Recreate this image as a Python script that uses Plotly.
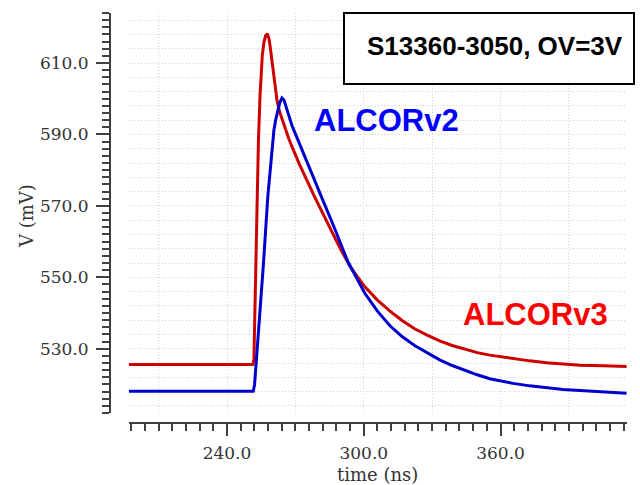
import plotly.graph_objects as go

# ---------------- data ----------------
t_v3 = [197.0, 251.4, 251.8, 252.3, 252.8, 253.3, 253.8, 254.5, 255.0, 255.5, 256.2,
        256.9, 257.7, 258.4, 258.9, 259.4, 260.2, 261.0, 261.9, 263.0, 264.3, 265.7,
        267.1, 269.0, 271.8, 278.4, 284.7, 289.4, 294.0, 300.4, 306.0, 311.4, 316.8,
        322.3, 327.8, 333.3, 338.8, 344.3, 349.8, 355.3, 360.4, 365.5, 372.8, 380.2,
        387.5, 394.8, 405.0, 415.3]
v_v3 = [525.6, 525.6, 527.0, 545.0, 562.0, 578.0, 588.5, 601.0, 607.5, 612.3, 615.8,
        617.6, 618.2, 616.8, 614.8, 612.3, 607.5, 603.3, 599.7, 596.5, 593.9, 591.3,
        588.8, 585.8, 581.6, 572.6, 564.2, 558.4, 553.0, 547.4, 543.6, 540.6, 537.9,
        535.6, 533.8, 532.2, 530.9, 529.8, 528.9, 528.2, 527.7, 527.2, 526.6, 526.1,
        525.7, 525.4, 525.2, 525.0]

t_v2 = [197.0, 251.5, 252.1, 252.8, 254.0, 256.0, 257.9, 259.3, 260.6, 261.5, 262.3,
        263.2, 264.1, 265.0, 265.8, 266.6, 267.5, 268.5, 269.6, 272.0, 275.5, 281.4,
        287.0, 293.0, 300.4, 305.9, 311.4, 316.8, 322.3, 327.8, 333.3, 338.8, 344.3,
        349.8, 355.3, 360.4, 365.5, 372.8, 380.2, 387.5, 394.8, 405.0, 415.3]
v_v2 = [518.1, 518.1, 520.0, 525.8, 535.1, 553.9, 572.6, 582.5, 591.3, 594.5, 597.0,
        599.0, 600.2, 599.6, 598.0, 596.2, 594.3, 592.5, 590.8, 587.2, 581.9, 572.6,
        564.0, 554.4, 545.6, 540.6, 536.5, 533.4, 530.9, 528.8, 526.9, 525.3, 523.9,
        522.7, 521.6, 520.9, 520.3, 519.6, 519.0, 518.6, 518.3, 517.8, 517.5]

x_range = [197.0, 415.5]
y_range = [512.0, 624.0]
x_title = "time (ns)"
y_title = "V (mV)"
label_v2 = "ALCORv2"
label_v3 = "ALCORv3"
box_text = "S13360-3050, OV=3V"

# ---------------- layout helpers ----------------
W, H = 640, 485


def px(x):
    return x / W


def py(y):
    return 1 - y / H


AX_COLOR = "#404040"
TXT_COLOR = "#333333"
GRID_COLOR = "#d2d2d2"
SERIF = "DejaVu Serif"
SANS = "Liberation Sans, Arial, sans-serif"

fig = go.Figure()
fig.add_trace(go.Scatter(x=t_v3, y=v_v3, mode="lines",
                         line=dict(color="#cc0000", width=3),
                         showlegend=False, hoverinfo="skip"))
fig.add_trace(go.Scatter(x=t_v2, y=v_v2, mode="lines",
                         line=dict(color="#0000cc", width=3),
                         showlegend=False, hoverinfo="skip"))
# invisible trace so the free (visible) axes get a subplot
fig.add_trace(go.Scatter(x=[x_range[0]], y=[y_range[0]], xaxis="x2", yaxis="y2",
                         mode="markers", marker=dict(opacity=0), showlegend=False,
                         hoverinfo="skip"))

x_dom = [px(129), px(627)]
y_dom = [py(413), py(13)]

fig.update_layout(
    width=W, height=H,
    margin=dict(l=0, r=0, t=0, b=0),
    paper_bgcolor="white", plot_bgcolor="white",
    showlegend=False,
    xaxis=dict(domain=x_dom, range=x_range, showgrid=True, gridcolor=GRID_COLOR,
               griddash="1px,2px", gridwidth=1, tick0=0, dtick=30, showticklabels=False,
               ticks="", showline=False, zeroline=False, anchor="y", automargin=False),
    yaxis=dict(domain=y_dom, range=y_range, showgrid=True, gridcolor=GRID_COLOR,
               griddash="1px,2px", gridwidth=1, tick0=2, dtick=4, showticklabels=False,
               ticks="", showline=False, zeroline=False, anchor="x", automargin=False),
    xaxis2=dict(overlaying="x", anchor="free", position=py(423), side="bottom",
                range=x_range, showgrid=False, zeroline=False,
                showline=True, linecolor=AX_COLOR, linewidth=2,
                ticks="outside", ticklen=12, tickwidth=2, tickcolor=AX_COLOR,
                tick0=0, dtick=60, tickformat=".1f", ticklabelstandoff=3,
                tickfont=dict(family=SERIF, size=17, color=TXT_COLOR),
                minor=dict(ticks="outside", ticklen=7, tickwidth=1.5, tickcolor=AX_COLOR,
                           dtick=6, tick0=0, showgrid=False),
                automargin=False),
    yaxis2=dict(overlaying="y", anchor="free", position=px(110), side="left",
                range=y_range, showgrid=False, zeroline=False,
                showline=True, linecolor=AX_COLOR, linewidth=2,
                ticks="outside", ticklen=13, tickwidth=2, tickcolor=AX_COLOR,
                tick0=10, dtick=20, tickformat=".1f", ticklabelstandoff=4,
                tickfont=dict(family=SERIF, size=17, color=TXT_COLOR),
                minor=dict(ticks="outside", ticklen=7, tickwidth=1.5, tickcolor=AX_COLOR,
                           dtick=2, tick0=0, showgrid=False),
                automargin=False),
)

# legend-like box
fig.add_shape(type="rect", xref="paper", yref="paper",
              x0=px(344), x1=px(634), y0=py(84), y1=py(13),
              line=dict(color="black", width=2), fillcolor="white", layer="above")

fig.add_annotation(text="<b>" + box_text + "</b>", xref="paper", yref="paper",
                   x=px(495), y=py(46), showarrow=False, xanchor="center", yanchor="middle",
                   font=dict(family=SANS, size=26, color="black"))
fig.add_annotation(text="<b>" + label_v2 + "</b>", xref="paper", yref="paper",
                   x=px(386), y=py(120), showarrow=False, xanchor="center", yanchor="middle",
                   font=dict(family=SANS, size=31, color="#0000ff"))
fig.add_annotation(text="<b>" + label_v3 + "</b>", xref="paper", yref="paper",
                   x=px(535), y=py(314), showarrow=False, xanchor="center", yanchor="middle",
                   font=dict(family=SANS, size=31, color="#ff0000"))
fig.add_annotation(text=x_title, xref="paper", yref="paper",
                   x=px(377), y=py(474), showarrow=False, xanchor="center", yanchor="middle",
                   font=dict(family=SERIF, size=18, color=TXT_COLOR))
fig.add_annotation(text=y_title, xref="paper", yref="paper", textangle=-90,
                   x=px(26), y=py(216), showarrow=False, xanchor="center", yanchor="middle",
                   font=dict(family=SERIF, size=18, color=TXT_COLOR))

fig.write_html("out.html")
